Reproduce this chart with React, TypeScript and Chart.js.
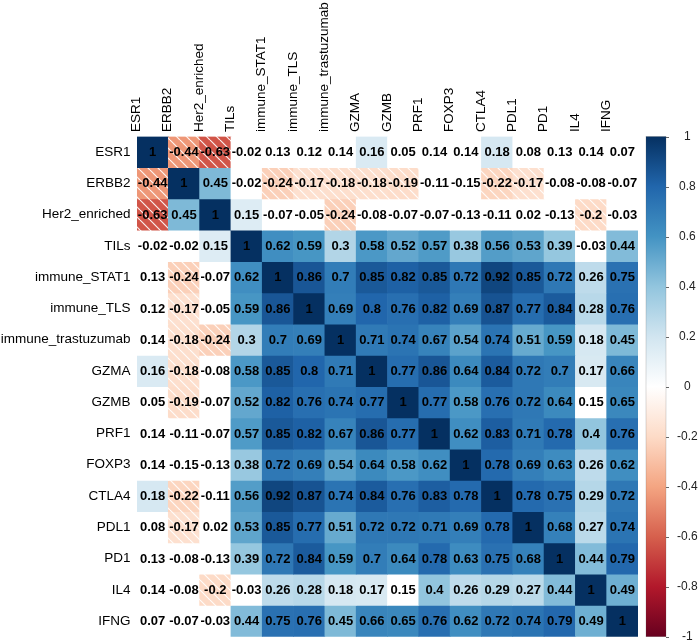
import React, { useEffect, useRef } from "react";
import { Chart, registerables } from "chart.js";

Chart.register(...registerables);

// ---------- data ----------
const variables = [
  "ESR1", "ERBB2", "Her2_enriched", "TILs", "immune_STAT1", "immune_TLS",
  "immune_trastuzumab", "GZMA", "GZMB", "PRF1", "FOXP3", "CTLA4", "PDL1",
  "PD1", "IL4", "IFNG",
];

const rowESR1 = [1, -0.44, -0.63, -0.02, 0.13, 0.12, 0.14, 0.16, 0.05, 0.14, 0.14, 0.18, 0.08, 0.13, 0.14, 0.07];
const rowERBB2 = [-0.44, 1, 0.45, -0.02, -0.24, -0.17, -0.18, -0.18, -0.19, -0.11, -0.15, -0.22, -0.17, -0.08, -0.08, -0.07];
const rowHer2 = [-0.63, 0.45, 1, 0.15, -0.07, -0.05, -0.24, -0.08, -0.07, -0.07, -0.13, -0.11, 0.02, -0.13, -0.2, -0.03];
const rowTILs = [-0.02, -0.02, 0.15, 1, 0.62, 0.59, 0.3, 0.58, 0.52, 0.57, 0.38, 0.56, 0.53, 0.39, -0.03, 0.44];
const rowSTAT1 = [0.13, -0.24, -0.07, 0.62, 1, 0.86, 0.7, 0.85, 0.82, 0.85, 0.72, 0.92, 0.85, 0.72, 0.26, 0.75];
const rowTLS = [0.12, -0.17, -0.05, 0.59, 0.86, 1, 0.69, 0.8, 0.76, 0.82, 0.69, 0.87, 0.77, 0.84, 0.28, 0.76];
const rowTrast = [0.14, -0.18, -0.24, 0.3, 0.7, 0.69, 1, 0.71, 0.74, 0.67, 0.54, 0.74, 0.51, 0.59, 0.18, 0.45];
const rowGZMA = [0.16, -0.18, -0.08, 0.58, 0.85, 0.8, 0.71, 1, 0.77, 0.86, 0.64, 0.84, 0.72, 0.7, 0.17, 0.66];
const rowGZMB = [0.05, -0.19, -0.07, 0.52, 0.82, 0.76, 0.74, 0.77, 1, 0.77, 0.58, 0.76, 0.72, 0.64, 0.15, 0.65];
const rowPRF1 = [0.14, -0.11, -0.07, 0.57, 0.85, 0.82, 0.67, 0.86, 0.77, 1, 0.62, 0.83, 0.71, 0.78, 0.4, 0.76];
const rowFOXP3 = [0.14, -0.15, -0.13, 0.38, 0.72, 0.69, 0.54, 0.64, 0.58, 0.62, 1, 0.78, 0.69, 0.63, 0.26, 0.62];
const rowCTLA4 = [0.18, -0.22, -0.11, 0.56, 0.92, 0.87, 0.74, 0.84, 0.76, 0.83, 0.78, 1, 0.78, 0.75, 0.29, 0.72];
const rowPDL1 = [0.08, -0.17, 0.02, 0.53, 0.85, 0.77, 0.51, 0.72, 0.72, 0.71, 0.69, 0.78, 1, 0.68, 0.27, 0.74];
const rowPD1 = [0.13, -0.08, -0.13, 0.39, 0.72, 0.84, 0.59, 0.7, 0.64, 0.78, 0.63, 0.75, 0.68, 1, 0.44, 0.79];
const rowIL4 = [0.14, -0.08, -0.2, -0.03, 0.26, 0.28, 0.18, 0.17, 0.15, 0.4, 0.26, 0.29, 0.27, 0.44, 1, 0.49];
const rowIFNG = [0.07, -0.07, -0.03, 0.44, 0.75, 0.76, 0.45, 0.66, 0.65, 0.76, 0.62, 0.72, 0.74, 0.79, 0.49, 1];

const corrRows = [
  rowESR1, rowERBB2, rowHer2, rowTILs, rowSTAT1, rowTLS, rowTrast, rowGZMA,
  rowGZMB, rowPRF1, rowFOXP3, rowCTLA4, rowPDL1, rowPD1, rowIL4, rowIFNG,
];

// 1 = significant (coloured), 0 = not significant (blank)
const significantMask = [
  "1110000100010000",
  "1110111110011000",
  "1111001000000010",
  "0011111111111101",
  "0101111111111111",
  "0101111111111111",
  "0111111111111111",
  "1101111111111111",
  "0101111111111101",
  "0001111111111111",
  "0001111111111111",
  "1101111111111111",
  "0101111111111111",
  "0001111111111111",
  "0010111101111111",
  "0001111111111111",
];

const colorbarMin = -1;
const colorbarMax = 1;
const colorbarStep = 0.2;

const rdbuPalette = [
  "#67001F", "#B2182B", "#D6604D", "#F4A582", "#FDDBC7", "#FFFFFF",
  "#D1E5F0", "#92C5DE", "#4393C3", "#2166AC", "#053061",
];

// ---------- helpers ----------
const FONT = "'Liberation Sans', Arial, Helvetica, sans-serif";

function hexToRgb(h: string) {
  const n = parseInt(h.slice(1), 16);
  return [(n >> 16) & 255, (n >> 8) & 255, n & 255];
}

function corrColor(v: number) {
  const t = ((v + 1) / 2) * (rdbuPalette.length - 1);
  const i = Math.max(0, Math.min(rdbuPalette.length - 2, Math.floor(t)));
  const f = t - i;
  const a = hexToRgb(rdbuPalette[i]);
  const b = hexToRgb(rdbuPalette[i + 1]);
  const c = a.map((x, k) => Math.round(x + (b[k] - x) * f));
  return `rgb(${c[0]},${c[1]},${c[2]})`;
}

function hatchPattern(ctx: CanvasRenderingContext2D, color: string) {
  const p = 10;
  const c = document.createElement("canvas");
  c.width = p;
  c.height = p;
  const g = c.getContext("2d")!;
  g.fillStyle = color;
  g.fillRect(0, 0, p, p);
  g.strokeStyle = "rgba(255,255,255,0.9)";
  g.lineWidth = 1.2;
  for (let k = -1; k <= 1; k++) {
    g.beginPath();
    g.moveTo(k * p, 0);
    g.lineTo(k * p + p, p);
    g.stroke();
  }
  return ctx.createPattern(c, "repeat");
}

function zeroPadding(scale: any) {
  scale.paddingTop = 0;
  scale.paddingBottom = 0;
  scale.paddingLeft = 0;
  scale.paddingRight = 0;
}

const valueLabelPlugin = {
  id: "valueLabels",
  afterDatasetsDraw(chart: any) {
    const ctx = chart.ctx;
    ctx.save();
    ctx.font = `bold 13px ${FONT}`;
    ctx.fillStyle = "#000";
    ctx.textAlign = "center";
    ctx.textBaseline = "middle";
    chart.data.datasets.forEach((ds: any, i: number) => {
      const meta = chart.getDatasetMeta(i);
      meta.data.forEach((bar: any, j: number) => {
        const pt = bar.getCenterPoint();
        ctx.fillText(String(corrRows[i][j]), pt.x, pt.y + 0.5);
      });
    });
    ctx.restore();
  },
};

const colorbarPlugin = {
  id: "colorbar",
  afterDraw(chart: any) {
    const s = chart.scales.cb;
    const ctx = chart.ctx;
    const top = s.getPixelForValue(colorbarMax);
    const bottom = s.getPixelForValue(colorbarMin);
    const left = s.left + 8;
    const w = 20;
    const grad = ctx.createLinearGradient(0, bottom, 0, top);
    rdbuPalette.forEach((c, k) => grad.addColorStop(k / (rdbuPalette.length - 1), c));
    ctx.save();
    ctx.fillStyle = grad;
    ctx.fillRect(left, top, w, bottom - top);
    ctx.strokeStyle = "rgba(80,80,80,0.35)";
    ctx.lineWidth = 0.6;
    ctx.strokeRect(left, top, w, bottom - top);
    ctx.strokeStyle = "#666";
    ctx.lineWidth = 1;
    s.ticks.forEach((t: any) => {
      const y = Math.round(s.getPixelForValue(t.value)) + 0.5;
      ctx.beginPath();
      ctx.moveTo(left + w, y);
      ctx.lineTo(left + w + 3, y);
      ctx.stroke();
    });
    ctx.restore();
  },
};

export default function App() {
  const ref = useRef<HTMLCanvasElement | null>(null);

  useEffect(() => {
    const canvas = ref.current;
    if (!canvas) return;
    const ctx = canvas.getContext("2d")!;
    Chart.defaults.font.family = FONT;

    const datasets = corrRows.map((row, i) => ({
      label: variables[i],
      data: row.map(() => [i - 0.5, i + 0.5]),
      backgroundColor: row.map((v, j) => {
        if (significantMask[i][j] !== "1") return "#FFFFFF";
        const col = corrColor(v);
        return v < 0 ? hatchPattern(ctx, col) : col;
      }),
      borderWidth: 0,
      grouped: false,
      barPercentage: 1,
      categoryPercentage: 1,
      xAxisID: "x",
      yAxisID: "y",
    }));

    const chart = new Chart(ctx, {
      type: "bar",
      data: { labels: variables, datasets: datasets as any },
      options: {
        responsive: false,
        animation: false,
        devicePixelRatio: 1,
        layout: { padding: { top: 0, left: 0, right: 0, bottom: 7.3 } },
        plugins: { legend: { display: false }, tooltip: { enabled: false } },
        scales: {
          x: {
            type: "category",
            position: "top",
            offset: true,
            grid: { display: false, drawTicks: false },
            border: { display: false },
            ticks: {
              autoSkip: false,
              minRotation: 90,
              maxRotation: 90,
              padding: 4.5,
              color: "#000",
              font: { size: 13.5, family: FONT },
            },
            afterFit: (scale: any) => {
              scale.height = 136.5;
              zeroPadding(scale);
            },
          },
          y: {
            type: "linear",
            position: "left",
            min: -0.5,
            max: 15.5,
            reverse: true,
            grid: { display: false, drawTicks: false },
            border: { display: false },
            afterBuildTicks: (scale: any) => {
              scale.ticks = variables.map((_, i) => ({ value: i }));
            },
            ticks: {
              autoSkip: false,
              padding: 6.5,
              color: "#000",
              font: { size: 13.5, family: FONT },
              callback: (v: any) => variables[Number(v)],
            },
            afterFit: (scale: any) => {
              scale.width = 137;
              zeroPadding(scale);
            },
          },
          cb: {
            type: "linear",
            position: "right",
            min: colorbarMin,
            max: colorbarMax,
            grid: { display: false, drawTicks: false },
            border: { display: false },
            ticks: {
              stepSize: colorbarStep,
              padding: 39,
              crossAlign: "center",
              color: "#222",
              font: { size: 12, family: FONT },
              callback: (v: any) => String(Math.round(Number(v) * 10) / 10),
            },
            afterFit: (scale: any) => {
              scale.width = 62;
              zeroPadding(scale);
            },
          },
        },
      } as any,
      plugins: [valueLabelPlugin, colorbarPlugin],
    });

    return () => chart.destroy();
  }, []);

  return (
    <div style={{ position: "absolute", left: 0, top: 0, width: 700, height: 644, background: "#fff" }}>
      <canvas ref={ref} width={700} height={644} style={{ display: "block" }} />
    </div>
  );
}
